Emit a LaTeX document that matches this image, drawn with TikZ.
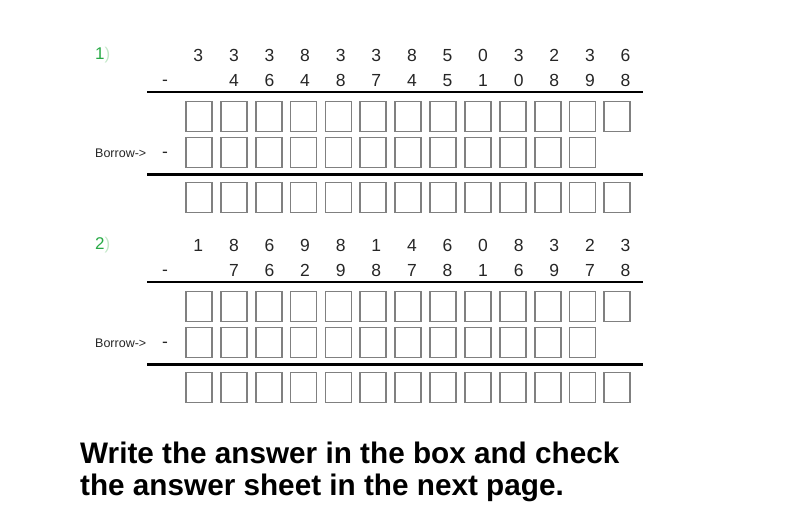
\documentclass[tikz,border=0pt]{standalone}
\usepackage{fontspec}
\setmainfont{Liberation Sans}
\usepackage{tikz}
\definecolor{boxgray}{RGB}{128,128,128}
\definecolor{numgreen}{RGB}{40,170,70}
\definecolor{fadegreen}{RGB}{195,232,200}

\begin{document}
\begin{tikzpicture}[x=1pt, y=-1pt,
    digit/.style={font=\fontsize{17.5}{20}\selectfont, text=black!85, inner sep=0pt, anchor=base},
    ansbox/.style={draw=boxgray, line width=1.8pt, minimum width=26pt, minimum height=30pt, inner sep=0pt},
    smalltxt/.style={font=\fontsize{12.5}{14}\selectfont, text=black!85, inner sep=0pt, anchor=west},
    note/.style={font=\bfseries\fontsize{29.7}{32}\selectfont, inner sep=0pt, anchor=base west}]
    \useasboundingbox (0,0) rectangle (799,525);

    % Problems
    \foreach \p/\oy/\rowa/\rowb in {1/0/{3,3,3,8,3,3,8,5,0,3,2,3,6}/{4,6,4,8,7,4,5,1,0,8,9,8},
                                    2/190/{1,8,6,9,8,1,4,6,0,8,3,2,3}/{7,6,2,9,8,7,8,1,6,9,7,8}} {
        \node (num\p) [smalltxt, font=\fontsize{17}{20}\selectfont, text=numgreen] at (95,{55+\oy}) {\p\textcolor{fadegreen}{)}};
        \node (minus\p) [digit] at (165,{85+\oy}) {-};
        \node (borrow\p) [smalltxt] at (95,{153+\oy}) {Borrow->};
        \node (bminus\p) [digit] at (165,{157.5+\oy}) {-};
        % digits
        \foreach \d [count=\i from 0] in \rowa
            \node (ta-\p-\i) [digit] at ({198.3+35.6*\i},{61.4+\oy}) {\d};
        \foreach \d [count=\i from 1] in \rowb
            \node (tb-\p-\i) [digit] at ({198.3+35.6*\i},{86.4+\oy}) {\d};
        % rules
        \draw[line width=1.5pt] (147,{92+\oy}) -- (643,{92+\oy});
        \draw[line width=3pt] (147,{174.5+\oy}) -- (643,{174.5+\oy});
        % boxes
        \foreach \i in {0,...,12} {
            \node (ra-\p-\i) [ansbox] at ({199+34.86*\i},{116.5+\oy}) {};
            \node (rc-\p-\i) [ansbox] at ({199+34.86*\i},{197.5+\oy}) {};
        }
        \foreach \i in {0,...,11}
            \node (rb-\p-\i) [ansbox] at ({199+34.86*\i},{152.5+\oy}) {};
    }

    % Note
    \node (note1) [note] at (80,463.3) {Write the answer in the box and check};
    \node (note2) [note] at (80,495) {the answer sheet in the next page.};
\end{tikzpicture}
\end{document}
